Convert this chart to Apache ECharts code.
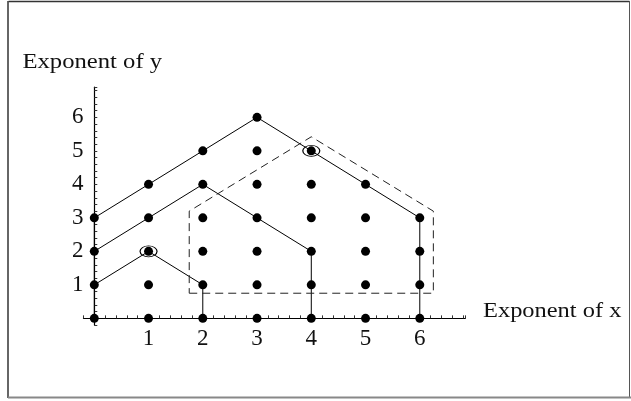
<!DOCTYPE html>
<html>
<head>
<meta charset="utf-8">
<script src="https://cdn.jsdelivr.net/npm/echarts@6/dist/echarts.min.js"></script>
<style>
  html, body { margin: 0; padding: 0; background: #fff; }
  #chart { width: 631px; height: 401px; }
</style>
</head>
<body>
<div id="chart"></div>
<script>
// Lattice points (exponent of x, exponent of y)
const latticePoints = [
  [0,0],[1,0],[2,0],[3,0],[4,0],[5,0],[6,0],
  [0,1],[1,1],[2,1],[3,1],[4,1],[5,1],[6,1],
  [0,2],[1,2],[2,2],[3,2],[4,2],[5,2],[6,2],
  [0,3],[1,3],[2,3],[3,3],[4,3],[5,3],[6,3],
  [1,4],[2,4],[3,4],[4,4],[5,4],
  [2,5],[3,5],[4,5],
  [3,6]
];

// Solid outlines
const outerPath  = [[0,0],[0,3],[3,6],[6,3],[6,0]];
const middlePath = [[0,2],[2,4],[4,2],[4,0]];
const innerPath  = [[0,1],[1,2],[2,1],[2,0]];

// Dashed outline
const dashedPath = [[1.75,0.75],[6.25,0.75],[6.25,3.2],[4,5.42],[1.75,3.2],[1.75,0.75]];

// Circled points
const circledPoints = [[1,2],[4,5]];

// Axis tick labels
const xTickLabels = [1,2,3,4,5,6];
const yTickLabels = [1,2,3,4,5,6];

const xTitle = 'Exponent of x';
const yTitle = 'Exponent of y';

const serif = '"Liberation Serif", "Times New Roman", serif';

function labelFor(list) {
  return function (v) {
    const r = Math.round(v);
    if (Math.abs(v - r) < 1e-6 && list.indexOf(r) >= 0) return String(r);
    return '';
  };
}

const chart = echarts.init(document.getElementById('chart'), null, { renderer: 'canvas' });

const solid = { color: '#000', width: 1 };

chart.setOption({
  animation: false,
  backgroundColor: '#fff',
  grid: { left: 83.45, width: 381.9, top: 87.2, height: 237.85 },
  xAxis: {
    type: 'value',
    min: -0.2,
    max: 6.84,
    interval: 0.2,
    splitLine: { show: false },
    axisLine: { onZero: true, lineStyle: { color: '#000', width: 1.2 } },
    axisTick: { inside: true, length: 3, lineStyle: { color: '#333', width: 1 } },
    axisLabel: {
      interval: 0,
      formatter: labelFor(xTickLabels),
      color: '#111',
      fontFamily: serif,
      fontSize: 23,
      margin: 2
    }
  },
  yAxis: {
    type: 'value',
    min: -0.2,
    max: 6.9,
    interval: 0.2,
    splitLine: { show: false },
    axisLine: { onZero: true, lineStyle: { color: '#000', width: 1.2 } },
    axisTick: { inside: true, length: 3, lineStyle: { color: '#333', width: 1 } },
    axisLabel: {
      interval: 0,
      formatter: labelFor(yTickLabels),
      color: '#111',
      fontFamily: serif,
      fontSize: 23,
      margin: 0
    }
  },
  graphic: [
    { type: 'line', shape: { x1: 8.5, y1: 1.5, x2: 629.5, y2: 1.5 }, style: { stroke: '#333', lineWidth: 1.5 } },
    { type: 'line', shape: { x1: 8, y1: 1, x2: 8, y2: 398 }, style: { stroke: '#333', lineWidth: 1.5 } },
    { type: 'line', shape: { x1: 629.5, y1: 1, x2: 629.5, y2: 398 }, style: { stroke: '#555', lineWidth: 1 } },
    { type: 'line', shape: { x1: 8, y1: 397.5, x2: 631, y2: 397.5 }, style: { stroke: '#888', lineWidth: 2 } },
    {
      type: 'text', x: 22.5, y: 62, scaleX: 1.12,
      style: { text: yTitle, font: '22px ' + serif, fill: '#111', verticalAlign: 'middle', align: 'left' }
    },
    {
      type: 'text', x: 483, y: 311, scaleX: 1.11,
      style: { text: xTitle, font: '22px ' + serif, fill: '#111', verticalAlign: 'middle', align: 'left' }
    }
  ],
  series: [
    { type: 'line', data: outerPath, symbol: 'none', lineStyle: solid, z: 2 },
    { type: 'line', data: middlePath, symbol: 'none', lineStyle: solid, z: 2 },
    { type: 'line', data: innerPath, symbol: 'none', lineStyle: solid, z: 2 },
    {
      type: 'line', data: dashedPath, symbol: 'none', z: 2,
      lineStyle: { color: '#222', width: 1, type: [8, 5] }
    },
    {
      type: 'scatter', data: latticePoints, symbol: 'circle', symbolSize: 9, z: 3,
      itemStyle: { color: '#000', opacity: 1 }
    },
    {
      type: 'scatter', data: circledPoints, symbol: 'circle', symbolSize: [17, 11], z: 4,
      itemStyle: { color: 'rgba(0,0,0,0)', borderColor: '#000', borderWidth: 1, opacity: 1 }
    }
  ]
});
</script>
</body>
</html>
